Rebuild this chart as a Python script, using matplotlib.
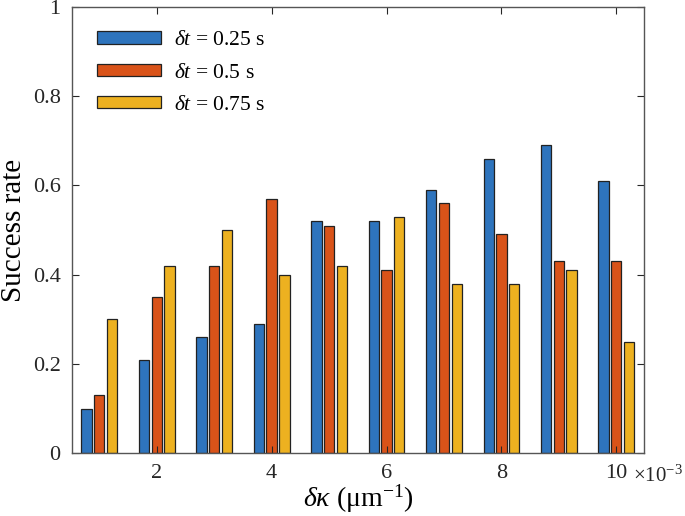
import numpy as np
import matplotlib.pyplot as plt

# x positions in units of 1e-3 (um^-1)
dk = [1, 2, 3, 4, 5, 6, 7, 8, 9, 10]
rate_025 = [0.10, 0.21, 0.26, 0.29, 0.52, 0.52, 0.59, 0.66, 0.69, 0.61]
rate_05 = [0.13, 0.35, 0.42, 0.57, 0.51, 0.41, 0.56, 0.49, 0.43, 0.43]
rate_075 = [0.30, 0.42, 0.50, 0.40, 0.42, 0.53, 0.38, 0.38, 0.41, 0.25]
labels = [r'$\delta t$ = 0.25 s', r'$\delta t$ = 0.5 s', r'$\delta t$ = 0.75 s']
xticks = [2, 4, 6, 8, 10]
yticks = [0, 0.2, 0.4, 0.6, 0.8, 1]

plt.rcParams['font.family'] = 'Liberation Serif'
plt.rcParams['mathtext.fontset'] = 'custom'
plt.rcParams['mathtext.rm'] = 'Liberation Serif'
plt.rcParams['mathtext.it'] = 'Liberation Serif:italic'

fig = plt.figure(figsize=(6.85, 5.16), dpi=100)
ax = fig.add_axes([0.1047, 0.1215, 0.8353, 0.8655])

colors = ['#2E74BD', '#D95319', '#EDB120']
x = np.array(dk, dtype=float)
w = 0.18
off = 0.222
for i, (vals, c, lab) in enumerate(zip([rate_025, rate_05, rate_075], colors, labels)):
    ax.bar(x + (i - 1) * off, vals, width=w, color=c, edgecolor='#222222',
           linewidth=0.9, label=lab)

ax.set_xlim(0.52, 10.48)
ax.set_ylim(0, 1)
ax.set_xticks(xticks)
ax.set_xticklabels([str(t) for t in xticks])
ax.set_yticks(yticks)
ax.set_yticklabels(['0', '0.2', '0.4', '0.6', '0.8', '1'])
ax.tick_params(direction='in', top=True, right=True, length=5, width=0.8,
               labelsize=16, colors='#262626', pad=8)
for s in ax.spines.values():
    s.set_color('#555555')
    s.set_linewidth(1.0)

ax.text(0.981, -0.064, r'$\times\mathrm{10}^{\mathrm{-3}}$', transform=ax.transAxes,
        ha='left', va='baseline', fontsize=15, color='#262626')

ax.set_ylabel('Success rate', fontsize=21)
ax.yaxis.set_label_coords(-0.078, 0.5)
ax.set_xlabel(r'$\delta\kappa$ (μm$^{\mathrm{-1}}$)', fontsize=20, labelpad=-1)

ax.legend(loc='upper left', bbox_to_anchor=(0.044, 0.945), frameon=False,
          fontsize=15.5, handlelength=3.0, handleheight=0.5, labelspacing=0.62,
          handletextpad=0.6, borderpad=0, borderaxespad=0)

fig.savefig('out.png', dpi=100)
